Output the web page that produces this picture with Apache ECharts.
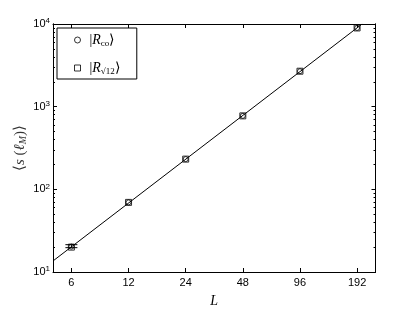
<!DOCTYPE html>
<html>
<head>
<meta charset="utf-8">
<script src="https://cdn.jsdelivr.net/npm/echarts@6/dist/echarts.min.js"></script>
<style>html,body{margin:0;padding:0;background:#fff;}#c{width:415px;height:313px;}</style>
</head>
<body>
<div id="c"></div>
<script>
// ---- data ----
const L = [6, 12, 24, 48, 96, 192];
const sRco = [20.3, 69.5, 232, 774, 2685, 8960];
const sRsqrt12 = [20.0, 69.5, 232, 774, 2685, 8960];
const errL = [6];
const errLow = [19.7];
const errHigh = [21.4];
const fitL = [4.8, 204];
const fitS = [13.6, 10000];
const xTicks = [6, 12, 24, 48, 96, 192];
const yTicks = [10, 100, 1000, 10000];
const yMinorTicks = [20, 30, 40, 50, 60, 70, 80, 90, 200, 300, 400, 500, 600, 700, 800, 900, 2000, 3000, 4000, 5000, 6000, 7000, 8000, 9000];
const seriesNames = ['Rco', 'Rsqrt12'];
const legendLabels = {
  Rco: '{l||}{r|R}{s|co}{a|⟩}',
  Rsqrt12: '{l||}{r|R}{s|√12}{a|⟩}'
};

const chart = echarts.init(document.getElementById('c'), null, {renderer: 'canvas'});
const XMIN = 4.8, XMAX = 240, YMIN = 10, YMAX = 10000;
const black = '#000';
const sans = 'Liberation Sans';
const serif = 'Liberation Serif';

function xAxisDef(pos, labels) {
  return {
    type: 'log', logBase: 10, min: XMIN, max: XMAX, position: pos,
    axisLine: {show: true, lineStyle: {color: black, width: 1}},
    axisTick: {show: true, inside: true, length: 4, customValues: xTicks, lineStyle: {color: black}},
    axisLabel: {show: labels, customValues: xTicks, margin: 5, color: black, fontFamily: sans, fontSize: 11,
      formatter: v => String(Math.round(v))},
    minorTick: {show: false}, splitLine: {show: false},
    name: labels ? 'L' : '', nameLocation: 'middle', nameGap: 22, nameMoveOverlap: false,
    nameTextStyle: {fontFamily: serif, fontStyle: 'italic', fontSize: 14, color: black}
  };
}
function yAxisDef(pos, labels, minor) {
  return {
    type: 'log', logBase: 10, min: YMIN, max: YMAX, position: pos,
    axisLine: {show: true, lineStyle: {color: black, width: 1}},
    axisTick: {show: true, inside: true, length: minor ? 2 : 4, customValues: minor ? yMinorTicks : yTicks, lineStyle: {color: black, width: 1}},
    axisLabel: {show: labels, customValues: yTicks, margin: 3, color: black,
      formatter: v => '{b|10}{p|' + Math.round(Math.log10(v)) + '}',
      rich: {
        b: {fontFamily: sans, fontSize: 11, color: black, lineHeight: 14},
        p: {fontFamily: sans, fontSize: 8, color: black, verticalAlign: 'top', lineHeight: 14, padding: [0, 0, 8, 0]}
      }},
    minorTick: {show: false}, splitLine: {show: false},
    name: labels ? '{a|⟨}{i|s}{a| (}{i|ℓ}{s|M}{a|)⟩}' : '', nameLocation: 'middle', nameGap: 25, nameRotate: 90,
    nameMoveOverlap: false,
    nameTextStyle: {
      color: '#222',
      rich: {
        a: {fontFamily: serif, fontSize: 15, color: '#333'},
        i: {fontFamily: serif, fontStyle: 'italic', fontSize: 15, color: '#333'},
        s: {fontFamily: serif, fontStyle: 'italic', fontSize: 10, color: '#333', padding: [6, 0, 0, 0]}
      }
    }
  };
}

const option = {
  backgroundColor: '#fff',
  animation: false,
  grid: {left: 53, right: 39.5, top: 24, bottom: 35, containLabel: false},
  xAxis: [xAxisDef('bottom', true), xAxisDef('top', false)],
  yAxis: [yAxisDef('left', true, false), yAxisDef('right', false, false), yAxisDef('left', false, true), yAxisDef('right', false, true)],
  legend: {
    orient: 'vertical', left: 57, top: 28,
    data: [{name: 'Rco', icon: 'circle'}, {name: 'Rsqrt12', icon: 'rect'}],
    backgroundColor: '#fff', borderColor: black, borderWidth: 1, borderRadius: 0,
    padding: [4, 17, 3, 17], itemGap: 12, itemWidth: 6, itemHeight: 6,
    formatter: n => legendLabels[n],
    itemStyle: {color: '#fff', borderColor: black, borderWidth: 1},
    textStyle: {
      color: black,
      rich: {
        l: {fontFamily: serif, fontSize: 14, color: black, lineHeight: 20, padding: [0, 0, 0, 4]},
        a: {fontFamily: serif, fontSize: 14, color: black, lineHeight: 20},
        r: {fontFamily: serif, fontStyle: 'italic', fontSize: 14, color: black, lineHeight: 20},
        s: {fontFamily: serif, fontSize: 9, color: black, padding: [7, 0, 0, 0], lineHeight: 20}
      }
    }
  },
  series: [
    {
      name: 'fit', type: 'line', xAxisIndex: 0, yAxisIndex: 0,
      data: fitL.map((x, i) => [x, fitS[i]]), showSymbol: false, symbol: 'none',
      lineStyle: {color: black, width: 1}, silent: true, clip: true, z: 2
    },
    {
      name: 'err', type: 'custom', xAxisIndex: 0, yAxisIndex: 0,
      data: errL.map((x, i) => [x, errLow[i], errHigh[i]]),
      renderItem: (params, api) => {
        const lo = api.coord([api.value(0), api.value(1)]);
        const hi = api.coord([api.value(0), api.value(2)]);
        const w = 6;
        const st = {stroke: black, lineWidth: 1, fill: null};
        return {type: 'group', children: [
          {type: 'line', shape: {x1: lo[0], y1: lo[1], x2: hi[0], y2: hi[1]}, style: st},
          {type: 'line', shape: {x1: lo[0] - w, y1: lo[1], x2: lo[0] + w, y2: lo[1]}, style: st},
          {type: 'line', shape: {x1: hi[0] - w, y1: hi[1], x2: hi[0] + w, y2: hi[1]}, style: st}
        ]};
      }, z: 3
    },
    {
      name: 'Rco', type: 'scatter', xAxisIndex: 0, yAxisIndex: 0,
      data: L.map((x, i) => [x, sRco[i]]), symbol: 'circle', symbolSize: 5,
      itemStyle: {color: 'rgba(255,255,255,0)', borderColor: black, borderWidth: 1}, z: 4
    },
    {
      name: 'Rsqrt12', type: 'scatter', xAxisIndex: 0, yAxisIndex: 0,
      data: L.map((x, i) => [x, sRsqrt12[i]]), symbol: 'rect', symbolSize: 6,
      itemStyle: {color: 'rgba(255,255,255,0)', borderColor: black, borderWidth: 1}, z: 4
    }
  ]
};
chart.setOption(option);
</script>
</body>
</html>
